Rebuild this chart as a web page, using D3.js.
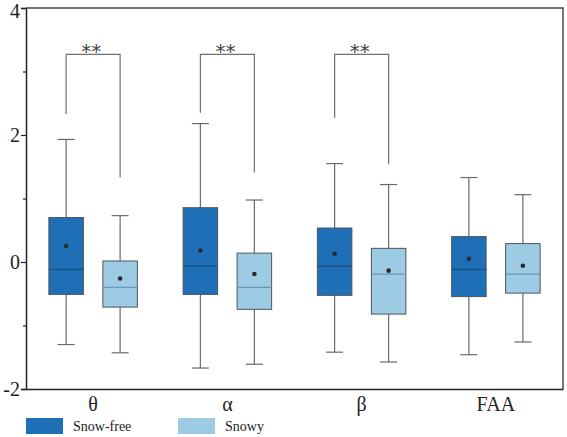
<!DOCTYPE html>
<html><head><meta charset="utf-8">
<script src="https://cdn.jsdelivr.net/npm/d3@7"></script>
<style>body{margin:0;background:#fff}svg{display:block}</style>
</head><body>
<script>
const categories = ["θ", "α", "β", "FAA"];
const groups = ["Snow-free", "Snowy"];
// [low whisker, Q1, median, Q3, high whisker, mean] per category
const snowFree = [
  [-1.30, -0.51, -0.115, 0.70, 1.93, 0.25],
  [-1.67, -0.51, -0.06, 0.855, 2.18, 0.18],
  [-1.42, -0.525, -0.07, 0.535, 1.55, 0.13],
  [-1.46, -0.545, -0.115, 0.40, 1.33, 0.05]
];
const snowy = [
  [-1.43, -0.71, -0.40, 0.016, 0.73, -0.26],
  [-1.61, -0.745, -0.40, 0.14, 0.976, -0.19],
  [-1.575, -0.82, -0.19, 0.215, 1.22, -0.136],
  [-1.26, -0.49, -0.19, 0.29, 1.06, -0.06]
];
// significance brackets: [category, left leg bottom, right leg bottom, top]
const brackets = [
  ["θ", 2.33, 1.33, 3.27],
  ["α", 2.35, 1.41, 3.27],
  ["β", 2.27, 1.54, 3.27]
];
const yTicks = [-2, 0, 2, 4];
const yMinorTicks = [-1, 1, 3];

(function () {
const W = 567, H = 437;
const mLeft = 26, mRight = 563, mTop = 8, mBottom = 389;
const colors = {"Snow-free": "#1f6fb6", "Snowy": "#9dcbe4"};
const medColors = {"Snow-free": "#1d4f7e", "Snowy": "#6c96b3"};

const svg = d3.select("body").append("svg").attr("width", W).attr("height", H);
const x = d3.scaleBand().domain(categories).range([mLeft, mRight]);
const y = d3.scaleLinear().domain([-2, 4]).range([mBottom, mTop]);
const off = 27, bw = 34.5, cap = 17;

const series = [["Snow-free", snowFree, -off], ["Snowy", snowy, off]];
series.forEach(([name, data, dx]) => {
  const g = svg.append("g");
  data.forEach((d, i) => {
    const cx = x(categories[i]) + x.bandwidth() / 2 + dx;
    const [lo, q1, med, q3, hi, mean] = d;
    const wc = "#6a6a6a";
    g.append("line").attr("x1", cx).attr("x2", cx).attr("y1", y(hi)).attr("y2", y(q3)).attr("stroke", wc).attr("stroke-width", 1.2);
    g.append("line").attr("x1", cx).attr("x2", cx).attr("y1", y(q1)).attr("y2", y(lo)).attr("stroke", wc).attr("stroke-width", 1.2);
    g.append("line").attr("x1", cx - cap / 2).attr("x2", cx + cap / 2).attr("y1", y(hi)).attr("y2", y(hi)).attr("stroke", wc).attr("stroke-width", 1.2);
    g.append("line").attr("x1", cx - cap / 2).attr("x2", cx + cap / 2).attr("y1", y(lo)).attr("y2", y(lo)).attr("stroke", wc).attr("stroke-width", 1.2);
    g.append("rect").attr("x", cx - bw / 2).attr("y", y(q3)).attr("width", bw).attr("height", y(q1) - y(q3))
      .attr("fill", colors[name]).attr("stroke", "#4a5560").attr("stroke-width", 1);
    g.append("line").attr("x1", cx - bw / 2).attr("x2", cx + bw / 2).attr("y1", y(med)).attr("y2", y(med)).attr("stroke", medColors[name]).attr("stroke-width", 1.2);
    g.append("circle").attr("cx", cx).attr("cy", y(mean)).attr("r", 2.3).attr("fill", "#2b2b2b");
  });
});

brackets.forEach(([c, l, r, t]) => {
  const cx = x(c) + x.bandwidth() / 2;
  const xl = cx - off, xr = cx + off;
  svg.append("path").attr("d", `M${xl},${y(l)}V${y(t)}H${xr}V${y(r)}`)
    .attr("fill", "none").attr("stroke", "#707070").attr("stroke-width", 1.2);
  svg.append("text").attr("x", cx - 2).attr("y", y(t) + 4).attr("text-anchor", "middle")
    .attr("font-family", "DejaVu Sans").attr("font-size", 20).attr("fill", "#444").text("**");
});

// frame
svg.append("path").attr("d", `M${mLeft},${mTop}H${mRight}V${mBottom}`).attr("fill", "none").attr("stroke", "#4a4a4a").attr("stroke-width", 1.5);

// y axis
const yAxis = svg.append("g").attr("transform", `translate(${mLeft},0)`)
  .call(d3.axisLeft(y).tickValues(yTicks).tickSize(5).tickFormat(d => String(d)));
yAxis.select(".domain").attr("stroke", "#222").attr("stroke-width", 1.5);
yAxis.selectAll(".tick line").attr("stroke", "#222").attr("stroke-width", 1.2);
yAxis.selectAll("text").attr("font-family", "Liberation Serif").attr("font-size", 20).attr("fill", "#222").attr("x", -6)
  .attr("dy", d => d === 4 ? "0.45em" : "0.32em");
svg.append("g").attr("transform", `translate(${mLeft},0)`)
  .call(d3.axisLeft(y).tickValues(yMinorTicks).tickSize(3).tickFormat(""))
  .call(g => g.select(".domain").remove())
  .selectAll("line").attr("stroke", "#222").attr("stroke-width", 1.2);

// x axis
const xAxis = svg.append("g").attr("transform", `translate(0,${mBottom})`)
  .call(d3.axisBottom(x).tickSize(0).tickPadding(8));
xAxis.select(".domain").attr("stroke", "#222").attr("stroke-width", 1.5);
xAxis.selectAll("text").attr("font-family", "Liberation Serif").attr("font-size", 20).attr("fill", "#222");

// legend
const legendX = [26, 178];
groups.forEach((gname, i) => {
  svg.append("rect").attr("x", legendX[i]).attr("y", 418).attr("width", 37).attr("height", 16).attr("fill", colors[gname]);
  svg.append("text").attr("x", legendX[i] + 47).attr("y", 431).attr("font-family", "Liberation Serif")
    .attr("font-size", 14).attr("fill", "#222").text(gname);
});
})();
</script>
</body></html>
